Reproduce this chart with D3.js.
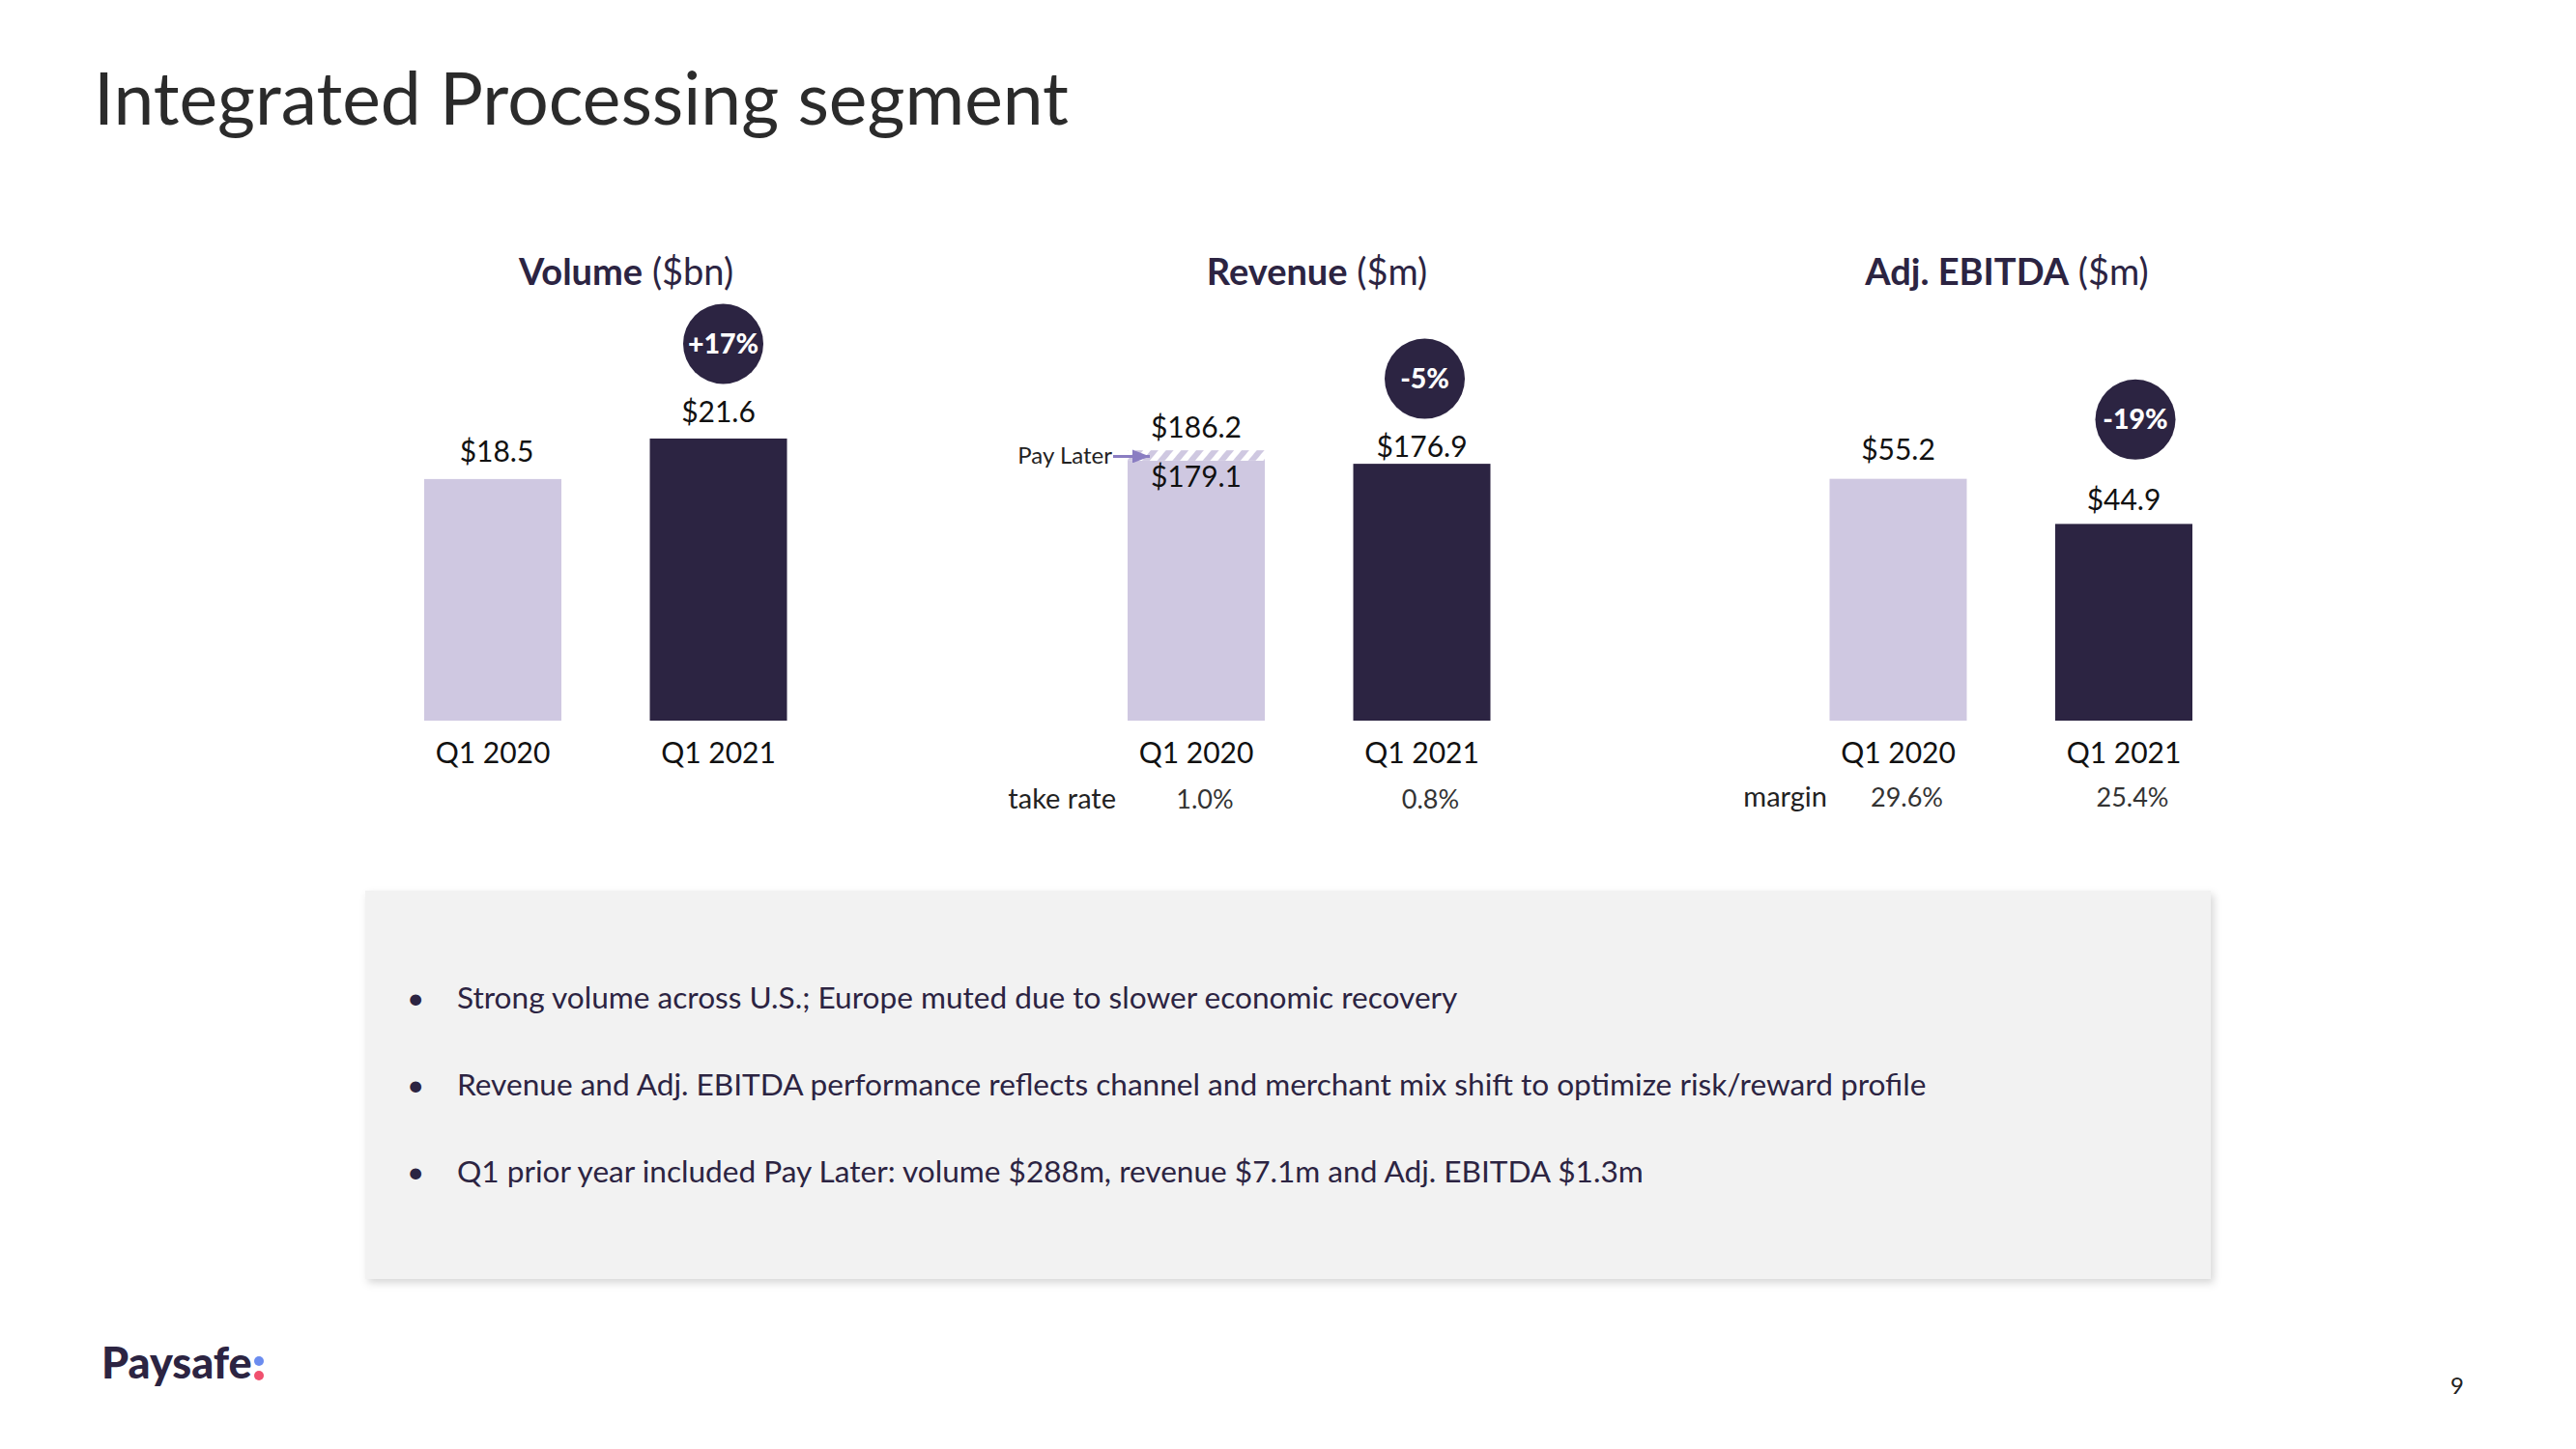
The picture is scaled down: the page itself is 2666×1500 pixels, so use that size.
<!DOCTYPE html>
<html>
<head>
<meta charset="utf-8">
<script src="https://cdn.jsdelivr.net/npm/d3@7"></script>
<style>
  html, body { margin: 0; padding: 0; background: #ffffff; }
  svg { display: block; }
  text { font-family: Lato, "Noto Sans", sans-serif; }
</style>
</head>
<body>
<script>
// ---------------- DATA ----------------
const categories = ["Q1 2020", "Q1 2021"];
const volumeValues = [18.5, 21.6];           // $bn
const revenueTotal = [186.2, 176.9];         // $m incl. Pay Later
const revenueExPayLater = [179.1, null];     // $m excl. Pay Later (Q1 2020 only)
const ebitdaValues = [55.2, 44.9];           // $m
const growthLabels = ["+17%", "-5%", "-19%"];
const takeRates = ["1.0%", "0.8%"];
const margins = ["29.6%", "25.4%"];
const pageTitle = "Integrated Processing segment";
const bulletTexts = [
  "Strong volume across U.S.; Europe muted due to slower economic recovery",
  "Revenue and Adj. EBITDA performance reflects channel and merchant mix shift to optimize risk/reward profile",
  "Q1 prior year included Pay Later: volume $288m, revenue $7.1m and Adj. EBITDA $1.3m"
];

// ---------------- STYLE ----------------
const C = {
  light: "#cfc8e1",
  dark: "#2c2442",
  navy: "#2c2442",
  text: "#111111",
  grey: "#333333",
  title: "#2b2b2b",
  arrow: "#8a7dc2",
  box: "#f2f2f2"
};

const W = 2666, H = 1500;
const svg = d3.select("body").append("svg").attr("width", W).attr("height", H);

const defs = svg.append("defs");
const pat = defs.append("pattern")
  .attr("id", "hatch").attr("patternUnits", "userSpaceOnUse")
  .attr("width", 12).attr("height", 12)
  .attr("patternTransform", "rotate(40)");
pat.append("rect").attr("width", 12).attr("height", 12).attr("fill", "#ffffff");
pat.append("rect").attr("width", 6).attr("height", 12).attr("fill", C.light);

const shadow = defs.append("filter").attr("id", "shadow")
  .attr("x", "-5%").attr("y", "-10%").attr("width", "110%").attr("height", "125%");
shadow.append("feDropShadow").attr("dx", 3).attr("dy", 4)
  .attr("stdDeviation", 4).attr("flood-color", "#000").attr("flood-opacity", 0.16);

const marker = defs.append("marker").attr("id", "arrowHead")
  .attr("viewBox", "0 0 10 10").attr("refX", 10).attr("refY", 5)
  .attr("markerWidth", 6.5).attr("markerHeight", 5).attr("orient", "auto")
  .attr("markerUnits", "strokeWidth").attr("preserveAspectRatio", "none");
marker.append("path").attr("d", "M0,0 L10,5 L0,10 Z").attr("fill", C.arrow);

// ---------------- PAGE TITLE ----------------
svg.append("text").attr("x", 97).attr("y", 129)
  .attr("font-size", 75).attr("fill", C.title).text(pageTitle);

// ---------------- PANELS ----------------
const baseY = 746;
const plotH = 300;
const panels = [
  { bold: "Volume", unit: " ($bn)", titleX: 648, x0: 439, yMax: 22.19,
    values: volumeValues, gaps: [18, 17], badge: growthLabels[0], badgeDx: 5, badgeDy: -81,
    sub: null, subVals: null },
  { bold: "Revenue", unit: " ($m)", titleX: 1363, x0: 1167, yMax: 199.6,
    values: revenueTotal, gaps: [13, 7], badge: growthLabels[1], badgeDx: 3, badgeDy: -81,
    sub: "take rate", subVals: takeRates, subRight: 1155, subY: 837 },
  { bold: "Adj. EBITDA", unit: " ($m)", titleX: 2077, x0: 1893.5, yMax: 66.15,
    values: ebitdaValues, gaps: [20, 14], badge: growthLabels[2], badgeDx: 12, badgeDy: -94,
    sub: "margin", subVals: margins, subRight: 1891, subY: 835 }
];

const fmt = d => "$" + d3.format(".1f")(d);

panels.forEach((p, pi) => {
  const g = svg.append("g");
  const x = d3.scaleBand().domain(categories).range([p.x0, p.x0 + 375.5])
    .paddingInner(0.392).paddingOuter(0);
  const y = d3.scaleLinear().domain([0, p.yMax]).range([baseY, baseY - plotH]);

  // title
  const t = g.append("text").attr("x", p.titleX).attr("y", 295)
    .attr("text-anchor", "middle").attr("font-size", 38).attr("fill", C.navy);
  t.append("tspan").attr("font-weight", 700).text(p.bold);
  t.append("tspan").attr("font-weight", 400).text(p.unit);

  // bars
  const solidTop = (d, i) => (pi === 1 && revenueExPayLater[i] != null) ? y(revenueExPayLater[i]) : y(d);
  g.selectAll("rect.bar").data(p.values).join("rect")
    .attr("class", "bar")
    .attr("x", (d, i) => x(categories[i]))
    .attr("width", x.bandwidth())
    .attr("y", solidTop)
    .attr("height", (d, i) => baseY - solidTop(d, i))
    .attr("fill", (d, i) => i === 0 ? C.light : C.dark);

  // value labels
  g.selectAll("text.val").data(p.values).join("text")
    .attr("class", "val")
    .attr("x", (d, i) => x(categories[i]) + x.bandwidth() / 2 + (i === 0 && pi === 0 ? 4 : 0))
    .attr("y", (d, i) => y(d) - p.gaps[i])
    .attr("text-anchor", "middle").attr("font-size", 30).attr("fill", C.text)
    .text(d => fmt(d));

  // revenue Pay Later hatch
  if (pi === 1) {
    revenueExPayLater.forEach((v, i) => {
      if (v == null) return;
      const bx = x(categories[i]);
      g.append("rect").attr("x", bx).attr("width", x.bandwidth())
        .attr("y", y(revenueTotal[i])).attr("height", y(v) - y(revenueTotal[i]))
        .attr("fill", "url(#hatch)");
      g.append("text").attr("x", bx + x.bandwidth() / 2).attr("y", y(v) + 27)
        .attr("text-anchor", "middle").attr("font-size", 30).attr("fill", C.text)
        .text(fmt(v));
      const ay = (y(revenueTotal[i]) + y(v)) / 2 + 1;
      g.append("line").attr("x1", bx - 15).attr("x2", bx + 23)
        .attr("y1", ay).attr("y2", ay)
        .attr("stroke", C.arrow).attr("stroke-width", 2.8)
        .attr("marker-end", "url(#arrowHead)");
      g.append("text").attr("x", bx - 16).attr("y", ay + 8)
        .attr("text-anchor", "end").attr("font-size", 24).attr("fill", "#222")
        .text("Pay Later");
    });
  }

  // growth badge
  const last = p.values.length - 1;
  const bcx = x(categories[last]) + x.bandwidth() / 2 + p.badgeDx;
  const bcy = y(p.values[last]) - p.gaps[last] + p.badgeDy;
  g.append("circle").attr("cx", bcx).attr("cy", bcy).attr("r", 41.5).attr("fill", C.dark);
  g.append("text").attr("x", bcx).attr("y", bcy + 10)
    .attr("text-anchor", "middle").attr("font-size", 28.5).attr("font-weight", 900)
    .attr("fill", "#ffffff").text(p.badge);

  // category axis
  const axis = g.append("g").attr("transform", `translate(0,${baseY})`)
    .call(d3.axisBottom(x).tickSize(0).tickPadding(23));
  axis.select(".domain").remove();
  axis.selectAll("text").attr("font-size", 30).attr("fill", C.text)
    .attr("font-family", "Lato, 'Noto Sans', sans-serif");

  // sub row
  if (p.sub) {
    g.append("text").attr("x", p.subRight).attr("y", p.subY)
      .attr("text-anchor", "end").attr("font-size", 29).attr("fill", "#222").text(p.sub);
    g.selectAll("text.subv").data(p.subVals).join("text")
      .attr("class", "subv")
      .attr("x", (d, i) => x(categories[i]) + x.bandwidth() / 2 + 9)
      .attr("y", p.subY)
      .attr("text-anchor", "middle").attr("font-size", 27).attr("fill", C.grey).text(d => d);
  }
});

// ---------------- COMMENTARY BOX ----------------
svg.append("rect").attr("x", 378).attr("y", 922).attr("width", 1910).attr("height", 402)
  .attr("fill", C.box).attr("filter", "url(#shadow)");

const bl = svg.append("g");
bulletTexts.forEach((s, i) => {
  const by = 1044 + i * 90;
  bl.append("text").attr("x", 421).attr("y", by).attr("font-size", 31.6).attr("fill", C.navy).text("•");
  bl.append("text").attr("x", 473).attr("y", by).attr("font-size", 31.6).attr("fill", C.navy).text(s);
});

// ---------------- FOOTER ----------------
svg.append("text").attr("x", 105).attr("y", 1427)
  .attr("font-size", 45).attr("font-weight", 900).attr("fill", C.navy).text("Paysafe");
svg.append("circle").attr("cx", 268).attr("cy", 1409).attr("r", 5).attr("fill", "#6b8cef");
svg.append("circle").attr("cx", 268).attr("cy", 1424).attr("r", 5).attr("fill", "#f0506e");

svg.append("text").attr("x", 2543).attr("y", 1443).attr("text-anchor", "middle")
  .attr("font-size", 24).attr("fill", "#222").text("9");
</script>
</body>
</html>
